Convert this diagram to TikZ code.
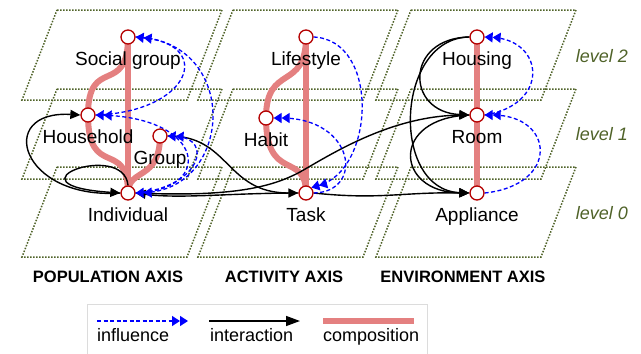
\documentclass[tikz,border=0pt]{standalone}
\usepackage{fontspec}
\setmainfont{Liberation Sans}
\usetikzlibrary{arrows.meta,backgrounds,positioning}
\pgfdeclarelayer{planes}
\pgfsetlayers{planes,background,main}
\definecolor{planegreen}{RGB}{79,98,40}
\definecolor{comppink}{RGB}{228,128,128}
\definecolor{nodered}{RGB}{180,0,0}
\definecolor{legendgray}{RGB}{220,220,220}

\begin{document}
\begin{tikzpicture}[x=1pt,y=-1pt,node distance=7pt,
  ent/.style={circle,draw=nodered,line width=1.3pt,fill=white,minimum size=14pt,inner sep=0pt},
  lbl/.style={font=\fontsize{19}{20}\selectfont,inner sep=0pt,text height=13.5pt,text depth=4pt},
  plane/.style={draw=planegreen,line width=1.5pt,dash pattern=on 1.5pt off 1.5pt},
  comp/.style={draw=comppink,line width=6pt},
  inter/.style={draw=black,line width=1.4pt,-{Triangle[length=10pt,width=9pt]}},
  infl/.style={draw=blue,line width=1.3pt,dash pattern=on 4pt off 2.5pt,
    -{Triangle[length=8pt,width=10pt]Triangle[length=8pt,width=10pt]}},
  lvl/.style={font=\fontsize{18}{20}\selectfont\itshape,text=planegreen},
  axis/.style={font=\fontsize{16.5}{18}\selectfont\bfseries},
  leg/.style={font=\fontsize{18}{20}\selectfont,inner sep=0pt,anchor=west,text height=13.5pt,text depth=4pt}]
\useasboundingbox (0,0) rectangle (641,354);

% levels of the three axes
\begin{pgfonlayer}{planes}
\foreach \ox in {57,233,411}
  \foreach \ty in {10,89,167}
    \draw[plane] (\ox,\ty) -- ++(165,0) -- ++(-35,90) -- ++(-165,0) -- cycle;
\end{pgfonlayer}

% entities
\node[ent] (SG) at (128,37) {};
\node[ent] (HH) at (88,115) {};
\node[ent] (GR) at (160,136) {};
\node[ent] (IN) at (128,193) {};
\node[ent] (LS) at (306,37) {};
\node[ent] (HB) at (266,118) {};
\node[ent] (TK) at (306,193) {};
\node[ent] (HS) at (477,37) {};
\node[ent] (RM) at (477,115) {};
\node[ent] (AP) at (477,193) {};

\node[lbl,below=of SG] (SGl) {Social group};
\node[lbl,below=of HH] (HHl) {Household};
\node[lbl,below=of GR] (GRl) {Group};
\node[lbl,below=of IN] (INl) {Individual};
\node[lbl,below=of LS] (LSl) {Lifestyle};
\node[lbl,below=of HB] (HBl) {Habit};
\node[lbl,below=of TK] (TKl) {Task};
\node[lbl,below=of HS] (HSl) {Housing};
\node[lbl,below=of RM] (RMl) {Room};
\node[lbl,below=of AP] (APl) {Appliance};

\node[lvl] (L2) at (602,56) {level 2};
\node[lvl] (L1) at (602,134) {level 1};
\node[lvl] (L0) at (602,213) {level 0};

\node[axis] (PA) at (108,277) {POPULATION AXIS};
\node[axis] (AA) at (284,277) {ACTIVITY AXIS};
\node[axis] (EA) at (463,277) {ENVIRONMENT AXIS};

\begin{pgfonlayer}{background}
% composition
\draw[comp] (SG.center) -- (IN.center);
\draw[comp] (SG.center) .. controls +(0,60) and +(0,-60) .. (HH.center);
\draw[comp] (HH.center) .. controls +(0,65) and +(0,-55) .. (IN.center);
\draw[comp] (GR.center) .. controls +(0,45) and +(0,-25) .. (IN.center);
\draw[comp] (LS.center) -- (TK.center);
\draw[comp] (LS.center) .. controls +(0,55) and +(0,-55) .. (HB.center);
\draw[comp] (HB.center) .. controls +(0,65) and +(0,-42) .. (TK.center);
\draw[comp] (HS.center) -- (AP.center);

% interaction
\draw[inter] (IN.west) .. controls (20,200) and (-5,110) .. (HH.west);
\draw[inter] (IN.north) .. controls (124,140) and (0,185) .. (IN.west);
\draw[inter] (GR.east) .. controls (230,135) and (225,193) .. (TK.west);
\draw[inter] (TK.west) .. controls (230,193) and (180,199) .. (IN.east);
\draw[inter] (IN.east) .. controls (230,197) and (270,188) .. (300,172)
  .. controls (330,155) and (390,116) .. (RM.west);
\draw[inter] (TK.east) .. controls (380,200) and (400,192) .. (AP.west);
\draw[inter] (HS.west) .. controls (405,38) and (405,112) .. (RM.west);
\draw[inter] (HS.west) .. controls (395,38) and (390,190) .. (AP.west);
\draw[inter] (RM.west) .. controls (390,118) and (395,192) .. (AP.west);

% influence
\draw[infl] (RM.east) .. controls (550,105) and (545,40) .. (HS.east);
\draw[infl] (AP.east) .. controls (560,185) and (555,115) .. (RM.east);
\draw[infl] (LS.east) .. controls (380,40) and (375,170) .. (TK.north east);
\draw[infl] (TK.east) .. controls (365,192) and (355,118) .. (HB.east);
\draw[infl] (SG.east) .. controls (240,40) and (235,190) .. (IN.east);
\draw[infl] (HH.east) .. controls (190,112) and (215,45) .. (SG.east);
\draw[infl] (IN.east) .. controls (215,190) and (205,118) .. (HH.east);
\draw[infl] (IN.east) .. controls (200,188) and (215,138) .. (GR.east);
\end{pgfonlayer}

% legend
\draw[legendgray,line width=1pt] (87,304) rectangle (427,360);
\coordinate (i1) at (97,321);
\coordinate (i2) at (188,321);
\coordinate (a1) at (209,321);
\coordinate (a2) at (300,321);
\coordinate (c1) at (323,321);
\coordinate (c2) at (414,321);
\draw[infl] (i1) -- (i2);
\draw[inter,-{Triangle[length=14pt,width=10pt]}] (a1) -- (a2);
\draw[comp] (c1) -- (c2);
\node[leg] (ti) at (97,337) {influence};
\node[leg] (ta) at (210,337) {interaction};
\node[leg] (tc) at (323,337) {composition};
\end{tikzpicture}
\end{document}
